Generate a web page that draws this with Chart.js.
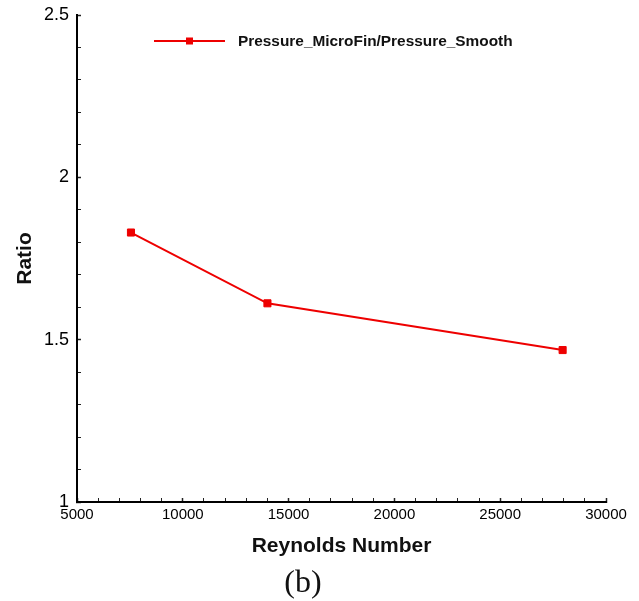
<!DOCTYPE html>
<html>
<head>
<meta charset="utf-8">
<script src="https://cdn.jsdelivr.net/npm/chart.js@4"></script>
<style>
  body { margin: 0; background: #fff; }
  canvas { display: block; }
</style>
</head>
<body>
<canvas id="ratioChart" width="639" height="601"></canvas>
<script>
  // Pressure drop ratio, micro-fin tube vs smooth tube
  const seriesLabel = 'Pressure_MicroFin/Pressure_Smooth';
  const reynolds = [7550, 14000, 27950];
  const ratio = [1.83, 1.612, 1.468];
  const xTickLabels = [5000, 10000, 15000, 20000, 25000, 30000];
  const yTickLabels = [1, 1.5, 2, 2.5];

  const red = '#ee0000';
  const ctx = document.getElementById('ratioChart').getContext('2d');

  // Legend drawn as a line-with-marker sample, like the plotting package does
  const lineLegend = {
    id: 'lineLegend',
    afterDraw(chart) {
      const c = chart.ctx;
      const ds = chart.data.datasets[0];
      const y = 41;
      c.save();
      c.strokeStyle = ds.borderColor;
      c.lineWidth = 2;
      c.beginPath();
      c.moveTo(154, y);
      c.lineTo(225, y);
      c.stroke();
      c.fillStyle = ds.borderColor;
      c.fillRect(186, y - 3.5, 7, 7);
      c.fillStyle = '#111';
      c.font = 'bold 15.4px "Liberation Sans", Arial, sans-serif';
      c.textBaseline = 'middle';
      c.fillText(ds.label, 238, y + 1);
      c.restore();
    }
  };

  const isLabelled = (value, list) => list.some(v => Math.abs(v - value) < 1e-6);

  new Chart(ctx, {
    type: 'line',
    data: {
      datasets: [{
        label: seriesLabel,
        data: reynolds.map((re, i) => ({ x: re, y: ratio[i] })),
        borderColor: red,
        backgroundColor: red,
        borderWidth: 2,
        tension: 0,
        pointStyle: 'rect',
        pointRadius: 5,
        pointBorderWidth: 1,
        pointBackgroundColor: red,
        pointBorderColor: red
      }]
    },
    options: {
      responsive: false,
      animation: false,
      layout: { padding: { top: 15, right: 33, left: 0, bottom: 0 } },
      plugins: {
        legend: { display: false },
        tooltip: { enabled: false },
        subtitle: {
          display: true,
          position: 'bottom',
          text: '(b)',
          color: '#111',
          font: { family: '"Liberation Serif", "Times New Roman", serif', size: 32, weight: 'normal', lineHeight: 1 },
          padding: { top: 0, bottom: 1 }
        }
      },
      scales: {
        x: {
          type: 'linear',
          min: 5000,
          max: 30000,
          afterFit(scale) {
            scale.height = 66;
            scale.paddingLeft = 0;
            scale.paddingRight = 0;
          },
          border: { display: true, color: '#000', width: 2 },
          grid: {
            drawOnChartArea: false,
            drawTicks: true,
            tickLength: -4,
            color: '#222',
            tickWidth: c => (isLabelled(c.tick.value, xTickLabels) ? 1.5 : 1)
          },
          ticks: {
            stepSize: 1000,
            autoSkip: false,
            maxRotation: 0,
            padding: 8,
            color: '#000',
            font: { family: '"Liberation Sans", Arial, sans-serif', size: 15 },
            callback: v => (isLabelled(v, xTickLabels) ? String(v) : '')
          },
          title: {
            display: true,
            text: 'Reynolds Number',
            color: '#111',
            font: { family: '"Liberation Sans", Arial, sans-serif', size: 21, weight: 'bold' },
            padding: { top: 0, bottom: 9.4 }
          }
        },
        y: {
          min: 1,
          max: 2.5,
          afterFit(scale) {
            scale.width = 77;
            scale.paddingTop = 0;
            scale.paddingBottom = 0;
          },
          border: { display: true, color: '#000', width: 2 },
          grid: {
            drawOnChartArea: false,
            drawTicks: true,
            tickLength: -4,
            color: '#222',
            tickWidth: c => (isLabelled(c.tick.value, yTickLabels) ? 1.5 : 1)
          },
          ticks: {
            stepSize: 0.1,
            autoSkip: false,
            padding: 12,
            color: '#000',
            font: { family: '"Liberation Sans", Arial, sans-serif', size: 18 },
            callback: v => (isLabelled(v, yTickLabels) ? String(Math.round(v * 10) / 10) : '')
          },
          title: {
            display: true,
            text: 'Ratio',
            color: '#111',
            font: { family: '"Liberation Sans", Arial, sans-serif', size: 21, weight: 'bold' },
            padding: { top: 12.4, bottom: 0 }
          }
        }
      }
    },
    plugins: [lineLegend]
  });
</script>
</body>
</html>
